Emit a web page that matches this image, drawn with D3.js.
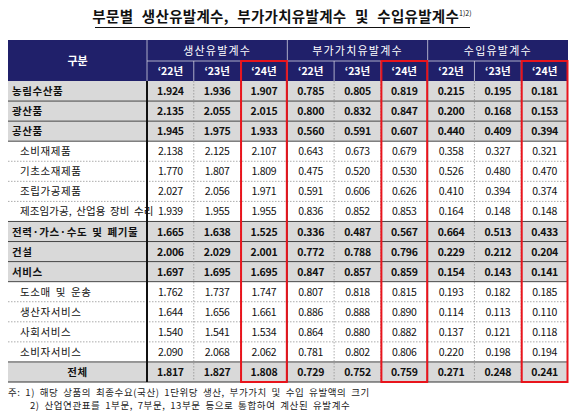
<!DOCTYPE html>
<html><head><meta charset="utf-8">
<script src="https://cdn.jsdelivr.net/npm/d3@7"></script>
<style>body{margin:0;background:#fff}text{font-family:"Noto Sans CJK KR","Noto Sans",sans-serif}</style>
</head><body><div id="chart"></div>
<script>
// Table data
const groups = ['생산유발계수', '부가가치유발계수', '수입유발계수']
const years = ['‘22년', '‘23년', '‘24년']
const rowNames = ['농림수산품', '광산품', '공산품', '소비재제품', '기초소재제품', '조립가공제품', '제조임가공, 산업용 장비 수리',
  '전력·가스·수도 및 폐기물', '건설', '서비스', '도소매 및 운송', '생산자서비스', '사회서비스', '소비자서비스', '전체']
const isMain = [1, 1, 1, 0, 0, 0, 0, 1, 1, 1, 0, 0, 0, 0, 1]
const values = [
  ['1.924', '1.936', '1.907', '0.785', '0.805', '0.819', '0.215', '0.195', '0.181'],
  ['2.135', '2.055', '2.015', '0.800', '0.832', '0.847', '0.200', '0.168', '0.153'],
  ['1.945', '1.975', '1.933', '0.560', '0.591', '0.607', '0.440', '0.409', '0.394'],
  ['2.138', '2.125', '2.107', '0.643', '0.673', '0.679', '0.358', '0.327', '0.321'],
  ['1.770', '1.807', '1.809', '0.475', '0.520', '0.530', '0.526', '0.480', '0.470'],
  ['2.027', '2.056', '1.971', '0.591', '0.606', '0.626', '0.410', '0.394', '0.374'],
  ['1.939', '1.955', '1.955', '0.836', '0.852', '0.853', '0.164', '0.148', '0.148'],
  ['1.665', '1.638', '1.525', '0.336', '0.487', '0.567', '0.664', '0.513', '0.433'],
  ['2.006', '2.029', '2.001', '0.772', '0.788', '0.796', '0.229', '0.212', '0.204'],
  ['1.697', '1.695', '1.695', '0.847', '0.857', '0.859', '0.154', '0.143', '0.141'],
  ['1.762', '1.737', '1.747', '0.807', '0.818', '0.815', '0.193', '0.182', '0.185'],
  ['1.644', '1.656', '1.661', '0.886', '0.888', '0.890', '0.114', '0.113', '0.110'],
  ['1.540', '1.541', '1.534', '0.864', '0.880', '0.882', '0.137', '0.121', '0.118'],
  ['2.090', '2.068', '2.062', '0.781', '0.802', '0.806', '0.220', '0.198', '0.194'],
  ['1.817', '1.827', '1.808', '0.729', '0.752', '0.759', '0.271', '0.248', '0.241']
]
const notes = ['주: 1) 해당 상품의 최종수요(국산) 1단위당 생산, 부가가치 및 수입 유발액의 크기',
  '2) 산업연관표를 1부문, 7부문, 13부문 등으로 통합하여 계산된 유발계수']

const W = 580, H = 417
const left = 8, right = 568, firstW = 139
const headTop = 40, headMid = 61, headBot = 81, bottom = 382
const navy = '#20206a'

const svg = d3.select('#chart').append('svg').attr('width', W).attr('height', H)

const cols = d3.range(9)
const x = d3.scaleBand().domain(cols).range([left + firstW, right])
const gx = d3.scaleBand().domain(groups).range([left + firstW, right])
const y = d3.scaleBand().domain(d3.range(rowNames.length)).range([headBot, bottom])

// Title
const title = svg.append('text').attr('x', 282).attr('y', 22).attr('text-anchor', 'middle')
  .style('font-size', '14.5px').style('font-weight', 'bold').attr('fill', '#111')
  .style('letter-spacing', '0.3px').style('word-spacing', '5px')
title.append('tspan').text('부문별 생산유발계수, 부가가치유발계수 및 수입유발계수')
title.append('tspan').attr('dy', -6).style('font-size', '7px').style('font-weight', 'normal').style('letter-spacing', '0').text('1)2)')
svg.append('line').attr('x1', 95).attr('x2', 470).attr('y1', 27.5).attr('y2', 27.5).attr('stroke', '#111').attr('stroke-width', 1.2)

// Header
svg.append('rect').attr('x', left).attr('y', headTop).attr('width', right - left).attr('height', headBot - headTop).attr('fill', navy)
svg.append('text').attr('x', left + firstW / 2).attr('y', (headTop + headBot) / 2 + 4).attr('text-anchor', 'middle')
  .attr('fill', '#fff').style('font-size', '11px').style('font-weight', 'bold').text('구분')
svg.selectAll('.gh').data(groups).enter().append('text')
  .attr('x', d => gx(d) + gx.bandwidth() / 2).attr('y', (headTop + headMid) / 2 + 4).attr('text-anchor', 'middle')
  .attr('fill', '#fff').style('font-size', '11px').style('letter-spacing', '1.2px').text(d => d)
svg.selectAll('.yh').data(cols).enter().append('text')
  .attr('x', d => x(d) + x.bandwidth() / 2).attr('y', (headMid + headBot) / 2 + 4).attr('text-anchor', 'middle')
  .attr('fill', '#fff').style('font-size', '10.5px').style('font-weight', 'bold').text(d => years[d % 3])
svg.append('line').attr('x1', left + firstW).attr('x2', right).attr('y1', headMid).attr('y2', headMid).attr('stroke', '#cfcfe0').attr('stroke-width', 0.8)
cols.slice(1).forEach(c => {
  svg.append('line').attr('x1', x(c)).attr('x2', x(c)).attr('y1', c % 3 === 0 ? headTop : headMid).attr('y2', headBot)
    .attr('stroke', '#cfcfe0').attr('stroke-width', 0.8)
})
svg.append('line').attr('x1', left + firstW).attr('x2', left + firstW).attr('y1', headTop).attr('y2', headBot).attr('stroke', '#cfcfe0').attr('stroke-width', 0.8)

// Rows
const rows = svg.selectAll('.row').data(rowNames).enter().append('g')
rows.append('rect').attr('x', left).attr('y', (d, i) => y(i)).attr('width', right - left).attr('height', y.bandwidth())
  .attr('fill', (d, i) => isMain[i] ? '#d9d9d9' : '#fff')
rows.append('text')
  .attr('x', (d, i) => i === rowNames.length - 1 ? left + firstW / 2 : left + (isMain[i] ? 4 : 12))
  .attr('text-anchor', (d, i) => i === rowNames.length - 1 ? 'middle' : 'start')
  .attr('y', (d, i) => y(i) + y.bandwidth() / 2 + 4)
  .style('font-size', '10.5px').style('font-weight', (d, i) => isMain[i] ? 'bold' : 'normal').attr('fill', '#111')
  .style('letter-spacing', (d, i) => i === 6 ? '0.1px' : '0.6px').style('word-spacing', '2px')
  .text(d => d)
rows.each(function (d, i) {
  d3.select(this).selectAll('.v').data(values[i]).enter().append('text')
    .attr('x', (v, c) => x(c) + x.bandwidth() / 2).attr('y', y(i) + y.bandwidth() / 2 + 4).attr('text-anchor', 'middle')
    .style('font-size', '10.5px').style('font-weight', isMain[i] ? 'bold' : 'normal').attr('fill', '#111')
    .style('letter-spacing', '-0.3px').text(v => v)
})

// Horizontal lines
d3.range(1, rowNames.length).forEach(i => {
  const solid = isMain[i] || isMain[i - 1]
  svg.append('line').attr('x1', left).attr('x2', right).attr('y1', y(i)).attr('y2', y(i))
    .attr('stroke', solid ? '#333' : '#888').attr('stroke-width', solid ? 0.9 : 0.7)
    .attr('stroke-dasharray', solid ? null : '1.5,1.5')
})
svg.append('line').attr('x1', left).attr('x2', right).attr('y1', bottom).attr('y2', bottom).attr('stroke', '#333')

// Vertical lines
cols.slice(1).forEach(c => {
  svg.append('line').attr('x1', x(c)).attr('x2', x(c)).attr('y1', headBot).attr('y2', bottom)
    .attr('stroke', c % 3 === 0 ? '#333' : '#888').attr('stroke-width', c % 3 === 0 ? 0.9 : 0.7)
    .attr('stroke-dasharray', c % 3 === 0 ? null : '1.5,1.5')
})
svg.append('line').attr('x1', left + firstW).attr('x2', left + firstW).attr('y1', headBot).attr('y2', bottom)
  .attr('stroke', '#111').attr('stroke-width', 2)

// Red boxes around '24 columns
;[2, 5, 8].forEach(c => {
  svg.append('rect').attr('x', x(c) + 0.5).attr('y', headMid).attr('width', x.bandwidth() - 1).attr('height', bottom - headMid)
    .attr('fill', 'none').attr('stroke', '#e8141c').attr('stroke-width', 2)
})

// Notes
svg.selectAll('.note').data(notes).enter().append('text')
  .attr('x', (d, i) => i === 0 ? 8 : 30).attr('y', (d, i) => 396 + i * 13)
  .style('font-size', '9.5px').style('letter-spacing', '0.6px').style('word-spacing', '2px')
  .attr('fill', '#222').text(d => d)
</script></body></html>
